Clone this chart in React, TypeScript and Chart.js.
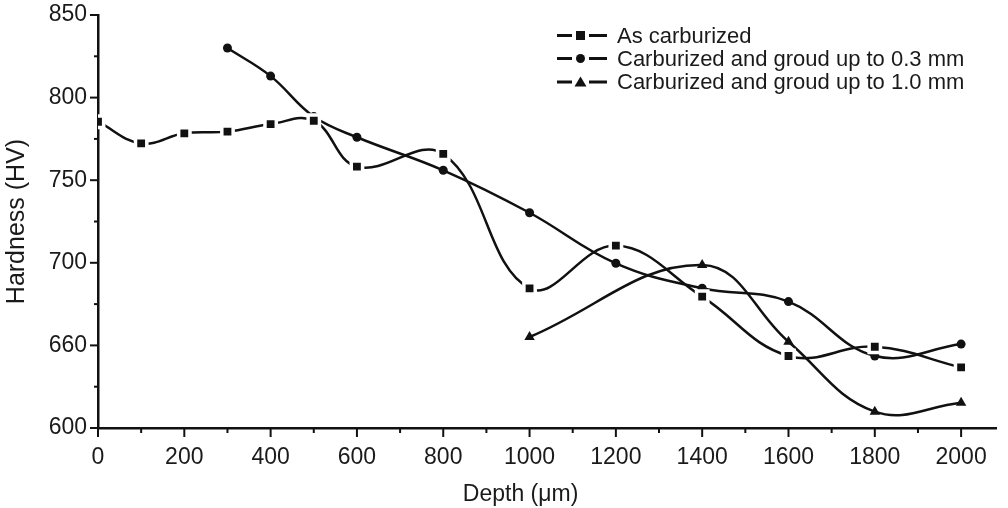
import React, { useEffect, useRef } from 'react';
import { Chart, registerables } from 'chart.js';

Chart.register(...registerables);

// ---- data ----
const seriesNames = [
  'As carburized',
  'Carburized and groud up to 0.3 mm',
  'Carburized and groud up to 1.0 mm',
];
const asCarbDepth = [0, 100, 200, 300, 400, 500, 600, 800, 1000, 1200, 1400, 1600, 1800, 2000];
const asCarbHardness = [785.4, 772.3, 778.4, 779.4, 784, 786, 758.2, 765.9, 684.5, 710.4, 679.5, 643.6, 649.2, 636.7];
const ground03Depth = [300, 400, 500, 600, 800, 1000, 1200, 1400, 1600, 1800, 2000];
const ground03Hardness = [830, 813, 788.5, 776, 756, 730.3, 699.7, 684.6, 676.5, 643.6, 650.8];
const ground10Depth = [1000, 1400, 1600, 1800, 2000];
const ground10Hardness = [655.1, 698.7, 652.2, 609.9, 615.3];

const xMajorTicks = [0, 200, 400, 600, 800, 1000, 1200, 1400, 1600, 1800, 2000];
const xMinorTicks = [100, 300, 500, 700, 900, 1100, 1300, 1500, 1700, 1900];
const yMajorTicks = [600, 650, 700, 750, 800, 850];
const yTickLabels = ['600', '660', '700', '750', '800', '850'];
const yMinorTicks = [625, 675, 725, 775, 825];
const xTitle = 'Depth (\u03bcm)';
const yTitle = 'Hardness (HV)';

const FONT = "'Liberation Sans', Arial, Helvetica, sans-serif";
const INK = '#111111';
const TEXT = '#1a1a1a';

function toPoints(xs: number[], ys: number[]) {
  return xs.map((x, i) => ({ x, y: ys[i] }));
}

function drawMarker(ctx: CanvasRenderingContext2D, style: string, x: number, y: number) {
  ctx.beginPath();
  if (style === 'rect') {
    ctx.rect(x - 4.5, y - 4.5, 9, 9);
  } else if (style === 'circle') {
    ctx.arc(x, y, 4.5, 0, Math.PI * 2);
  } else {
    ctx.moveTo(x, y - 5.5);
    ctx.lineTo(x + 6, y + 4.5);
    ctx.lineTo(x - 6, y + 4.5);
    ctx.closePath();
  }
  ctx.fill();
}

const customPlugin = {
  id: 'customDecor',
  afterDraw(chart: any) {
    const ctx: CanvasRenderingContext2D = chart.ctx;
    const xs = chart.scales.x;
    const ys = chart.scales.y;
    ctx.save();
    ctx.strokeStyle = INK;
    ctx.lineWidth = 2;
    // x tick marks
    const xBase = ys.bottom;
    xMajorTicks.forEach((v) => {
      const p = xs.getPixelForValue(v);
      ctx.beginPath(); ctx.moveTo(p, xBase); ctx.lineTo(p, xBase + 9); ctx.stroke();
    });
    xMinorTicks.forEach((v) => {
      const p = xs.getPixelForValue(v);
      ctx.beginPath(); ctx.moveTo(p, xBase); ctx.lineTo(p, xBase + 5); ctx.stroke();
    });
    // y tick marks
    const yBase = xs.left;
    yMajorTicks.forEach((v) => {
      const p = ys.getPixelForValue(v);
      ctx.beginPath(); ctx.moveTo(yBase, p); ctx.lineTo(yBase - 8, p); ctx.stroke();
    });
    yMinorTicks.forEach((v) => {
      const p = ys.getPixelForValue(v);
      ctx.beginPath(); ctx.moveTo(yBase, p); ctx.lineTo(yBase - 4, p); ctx.stroke();
    });

    // x-axis title, centred under the 0..2000 range
    ctx.fillStyle = TEXT;
    ctx.font = `23px ${FONT}`;
    ctx.textAlign = 'center';
    ctx.textBaseline = 'middle';
    const cx = (xs.getPixelForValue(0) + xs.getPixelForValue(2000)) / 2 - 9;
    ctx.fillText(xTitle, cx, 495);

    // y-axis title
    ctx.save();
    ctx.translate(17, (ys.top + ys.bottom) / 2);
    ctx.rotate(-Math.PI / 2);
    ctx.font = `25px ${FONT}`;
    ctx.fillText(yTitle, 0, 0);
    ctx.restore();

    // legend
    const rows = [35.5, 58.5, 82];
    const styles = ['rect', 'circle', 'triangle'];
    ctx.fillStyle = INK;
    ctx.lineWidth = 3;
    ctx.font = `22px ${FONT}`;
    ctx.textBaseline = 'middle';
    ctx.textAlign = 'left';
    rows.forEach((y, i) => {
      ctx.beginPath();
      ctx.moveTo(557, y); ctx.lineTo(572, y);
      ctx.moveTo(589, y); ctx.lineTo(607, y);
      ctx.stroke();
      drawMarker(ctx, styles[i], 580.5, y);
      ctx.fillStyle = TEXT;
      ctx.fillText(seriesNames[i], 617, y + 1);
      ctx.fillStyle = INK;
    });
    ctx.restore();
  },
};

export default function App() {
  const canvasRef = useRef<HTMLCanvasElement | null>(null);

  useEffect(() => {
    document.body.style.margin = '0';
    const canvas = canvasRef.current;
    if (!canvas) return;
    const common = {
      borderColor: INK,
      backgroundColor: INK,
      borderWidth: 2.5,
      tension: 0.4,
      pointBackgroundColor: INK,
      showLine: true,
      fill: false,
    };
    const chart = new Chart(canvas, {
      type: 'scatter',
      data: {
        datasets: [
          {
            ...common,
            label: seriesNames[0],
            data: toPoints(asCarbDepth, asCarbHardness),
            pointStyle: 'rect',
            pointRadius: 8,
            pointBorderColor: '#ffffff',
            pointBorderWidth: 3.5,
          },
          {
            ...common,
            label: seriesNames[1],
            data: toPoints(ground03Depth, ground03Hardness),
            pointStyle: 'circle',
            pointRadius: 4.5,
            pointBorderColor: INK,
            pointBorderWidth: 0,
          },
          {
            ...common,
            label: seriesNames[2],
            data: toPoints(ground10Depth, ground10Hardness),
            pointStyle: 'triangle',
            pointRadius: 6,
            pointBorderColor: INK,
            pointBorderWidth: 0,
          },
        ],
      },
      options: {
        animation: false,
        responsive: false,
        maintainAspectRatio: false,
        layout: { padding: { top: 15, right: 0, left: 0, bottom: 0 } },
        plugins: { legend: { display: false }, tooltip: { enabled: false } },
        scales: {
          x: {
            type: 'linear',
            min: 0,
            max: 2082,
            afterFit: (s: any) => { s.height = 80; s.paddingLeft = 0; s.paddingRight = 0; },
            afterBuildTicks: (s: any) => { s.ticks = xMajorTicks.map((v) => ({ value: v })); },
            grid: { display: false },
            border: { display: true, color: INK, width: 2.5 },
            ticks: {
              autoSkip: false,
              maxRotation: 0,
              padding: 8,
              color: TEXT,
              font: { family: FONT, size: 23 },
              callback: (v: any) => String(v),
            },
            title: { display: false },
          },
          y: {
            type: 'linear',
            min: 600,
            max: 850,
            afterFit: (s: any) => { s.width = 98; s.paddingTop = 0; s.paddingBottom = 0; },
            afterBuildTicks: (s: any) => { s.ticks = yMajorTicks.map((v) => ({ value: v })); },
            grid: { display: false },
            border: { display: true, color: INK, width: 2.5 },
            ticks: {
              autoSkip: false,
              padding: 3,
              color: TEXT,
              font: { family: FONT, size: 23 },
              callback: (v: any) => {
                const i = yMajorTicks.indexOf(Number(v));
                return i >= 0 ? yTickLabels[i] : '';
              },
            },
            title: { display: false },
          },
        },
      },
      plugins: [customPlugin],
    } as any);
    return () => chart.destroy();
  }, []);

  return (
    <div style={{ position: 'fixed', left: 0, top: 0, width: 1008, height: 508, background: '#fff' }}>
      <canvas ref={canvasRef} width={1008} height={508} style={{ width: 1008, height: 508, display: 'block' }} />
    </div>
  );
}
